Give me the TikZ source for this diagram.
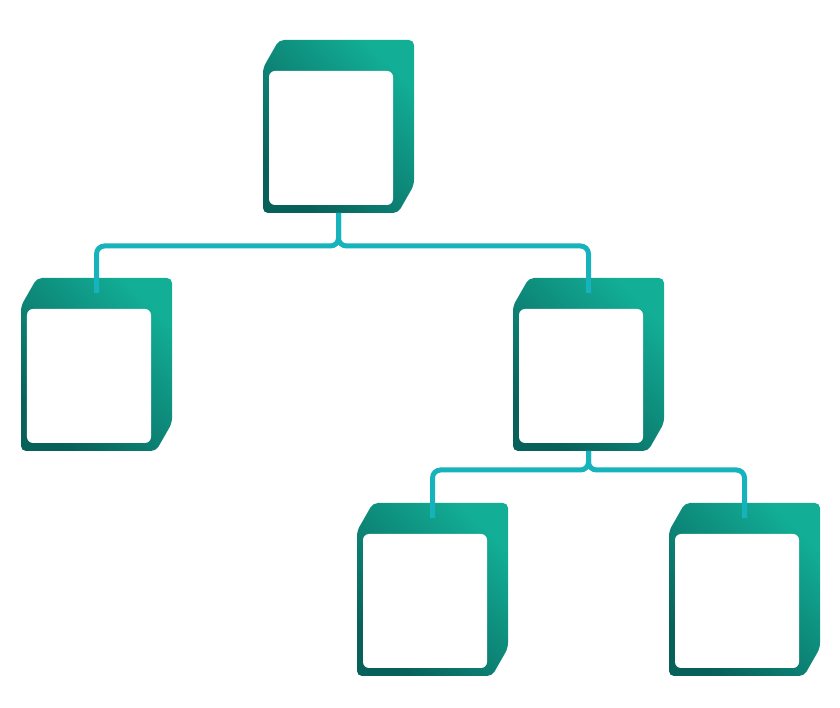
\documentclass[tikz,border=0pt]{standalone}
\usetikzlibrary{calc}

\definecolor{cubedark}{HTML}{08605A}
\definecolor{cubelight}{HTML}{12AE96}
\definecolor{linkcyan}{HTML}{17B3BC}

\tikzset{
  face/.style={rectangle, rounded corners=1.8mm, fill=white, minimum width=37.2mm, minimum height=40.2mm, inner sep=0pt},
  cubeshade/.style={left color=cubedark, right color=cubelight, shading angle=135, rounded corners=1.5mm},
  link/.style={linkcyan, line width=1.5mm, rounded corners=2.4mm}
}

% one box: name, left edge, bottom edge (pixels, y going down)
\newcommand{\cubebox}[3]{%
  \shade[cubeshade] (#2,#3) -- (#2,#3-145) -- (#2+16,#3-173) -- (#2+151,#3-173)
    -- (#2+151,#3-28) -- (#2+135,#3) -- cycle;
  \node[face] (#1) at (#2+68,#3-75) {};
  \coordinate (#1-in) at (#2+75.5,#3-158);
  \coordinate (#1-out) at (#2+75.5,#3);
}

\begin{document}
\begin{tikzpicture}[x=0.3mm, y=-0.3mm]
\useasboundingbox (0,0) rectangle (840,708);
% Draw the five boxes
\cubebox{root}{263}{213}
\cubebox{left}{21}{451}
\cubebox{mid}{513}{451}
\cubebox{lowleft}{357}{676}
\cubebox{lowright}{669}{676}
% Connect the levels
\coordinate (fork1) at ($(root-out)+(0,33)$);
\coordinate (fork2) at ($(mid-out)+(0,19)$);
\draw[link] (root-out) -- (fork1) -| (left-in);
\draw[link] (root-out) -- (fork1) -| (mid-in);
\draw[link] (mid-out) -- (fork2) -| (lowleft-in);
\draw[link] (mid-out) -- (fork2) -| (lowright-in);
\end{tikzpicture}
\end{document}
